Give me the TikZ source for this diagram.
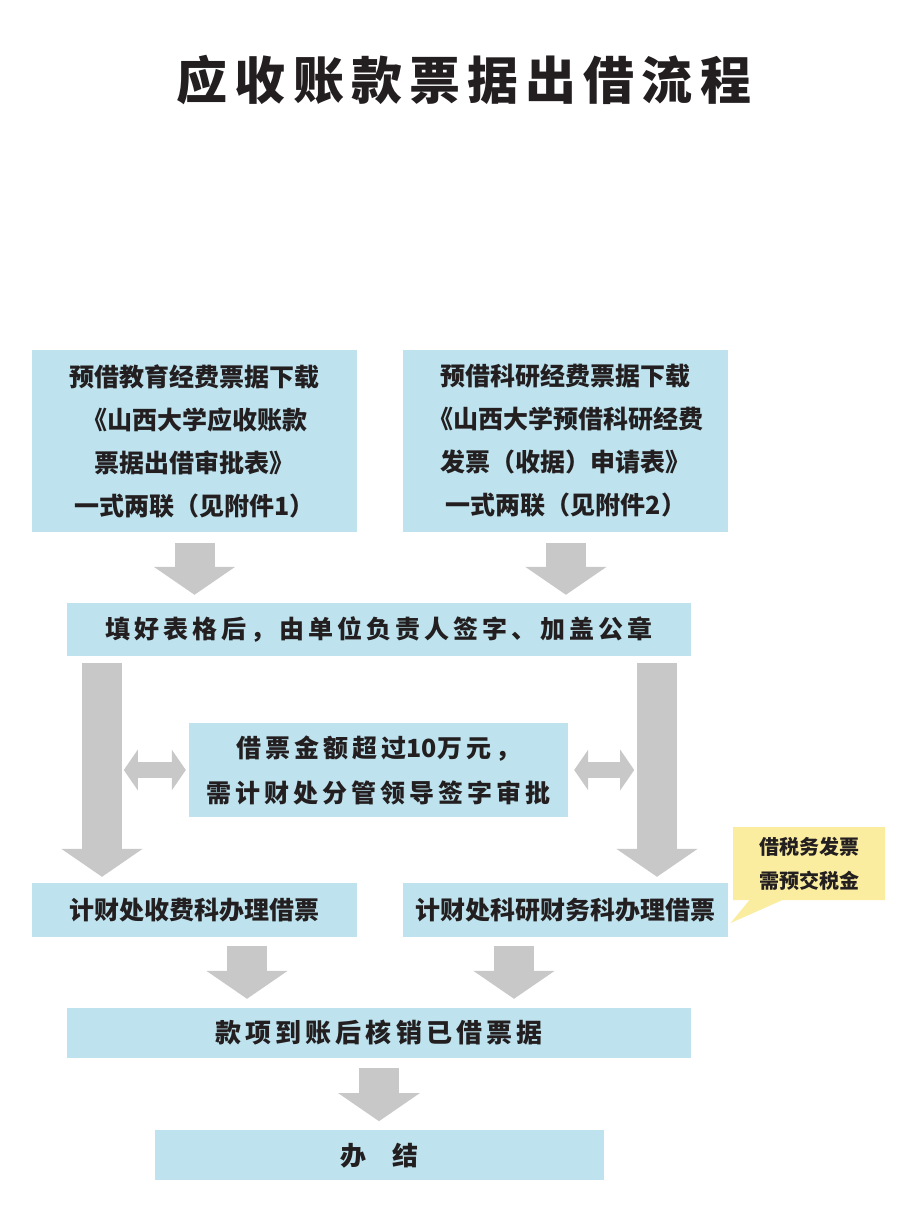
\documentclass[tikz,border=0pt]{standalone}
\usepackage{fontspec}
\newfontfamily\cjk{Noto Sans CJK SC}
\newfontfamily\cjkspaced[LetterSpace=16]{Noto Sans CJK SC}
\newfontfamily\cjkwide[LetterSpace=14]{Noto Sans CJK SC}
\usepackage{xcolor}
\definecolor{blue_box}{RGB}{190,227,238}
\definecolor{gray_arrow}{RGB}{200,200,200}
\definecolor{yellow_note}{RGB}{250,237,160}
\definecolor{black_text}{RGB}{35,31,32}
\usepackage{tikz}
\usetikzlibrary{calc,arrows.meta,positioning,shapes.callouts}

\begin{document}
\begin{tikzpicture}
[	x=1pt, y=-1pt,
	box/.style = {rectangle, fill=blue_box, inner sep=0, align=center, text=black_text},
	fatarrow/.style = {draw=gray_arrow, line width=40pt, -{Triangle[length=28pt,width=80pt]}},
	dblarrow/.style = {draw=gray_arrow, line width=16pt, {Triangle[length=14pt,width=40pt]}-{Triangle[length=14pt,width=40pt]}},
	note/.style = {rectangle callout, fill=yellow_note, inner sep=0, align=center, text=black_text, callout pointer width=33pt}
]
\fill[white] (0,0) rectangle (918,1222);
\useasboundingbox (0,0) rectangle (918,1222);

\node[text=black_text, font=\fontsize{51}{51}\selectfont\cjkwide\bfseries] (title) at (464,80) {应收账款票据出借流程};

\node[box, minimum width=325pt, minimum height=182pt, font=\fontsize{25}{43}\selectfont\cjk\bfseries] (eduform) at (194.5,441)
	{预借教育经费票据下载\\《山西大学应收账款\\票据出借审批表》\\一式两联（见附件1）};
\node[box, minimum width=325pt, minimum height=182pt, font=\fontsize{25}{43}\selectfont\cjk\bfseries, right=46pt of eduform] (resform)
	{预借科研经费票据下载\\《山西大学预借科研经费\\发票（收据）申请表》\\一式两联（见附件2）};
\node[box, minimum width=624pt, minimum height=53pt, font=\fontsize{25}{25}\selectfont\cjkspaced\bfseries] (sign) at (379,629.5)
	{填好表格后，由单位负责人签字、加盖公章};
\node[box, minimum width=379pt, minimum height=94pt, font=\fontsize{25}{45}\selectfont\cjkspaced\bfseries] (approve) at (378.5,770)
	{借票金额超过{\cjk\bfseries 10}万元，\\需计财处分管领导签字审批};
\node[box, minimum width=325pt, minimum height=54pt, font=\fontsize{25}{25}\selectfont\cjk\bfseries] (feeoffice) at (194.5,910)
	{计财处收费科办理借票};
\node[box, minimum width=325pt, minimum height=54pt, font=\fontsize{25}{25}\selectfont\cjk\bfseries, right=46pt of feeoffice] (resoffice)
	{计财处科研财务科办理借票};
\node[box, minimum width=624pt, minimum height=50pt, font=\fontsize{26}{26}\selectfont\cjkspaced\bfseries] (writeoff) at (379,1033)
	{款项到账后核销已借票据};
\node[box, minimum width=449pt, minimum height=50pt, font=\fontsize{26}{26}\selectfont\cjk\bfseries, below=72pt of writeoff] (done)
	{办　结};
\node[note, minimum width=152pt, minimum height=73pt, font=\fontsize{20}{34}\selectfont\cjk\bfseries,
	callout absolute pointer={([xshift=2pt,yshift=-13pt]resoffice.east)}] (tax) at (809,863.5)
	{借税务发票\\需预交税金};

\draw[fatarrow] ([yshift=-11pt]eduform.south) -- ([yshift=8pt]eduform.south |- sign.north);
\draw[fatarrow] ([yshift=-11pt]resform.south) -- ([yshift=8pt]resform.south |- sign.north);
\draw[fatarrow] ($(sign.south)+(-277,7)$) -- ($(sign.south |- feeoffice.north)+(-277,-6)$);
\draw[fatarrow] ($(sign.south)+(278,7)$) -- ($(sign.south |- resoffice.north)+(278,-6)$);
\draw[dblarrow] ([xshift=-3pt]approve.west) -- ([xshift=-65pt]approve.west);
\draw[dblarrow] ([xshift=6pt]approve.east) -- ([xshift=66pt]approve.east);
\draw[fatarrow] ($(feeoffice.south -| writeoff.north)+(-132,9)$) -- ($(writeoff.north)+(-132,-9)$);
\draw[fatarrow] ($(resoffice.south -| writeoff.north)+(135,9)$) -- ($(writeoff.north)+(135,-9)$);
\draw[fatarrow] ([yshift=-10pt]writeoff.south) -- ([yshift=9pt]done.north);

\end{tikzpicture}
\end{document}
